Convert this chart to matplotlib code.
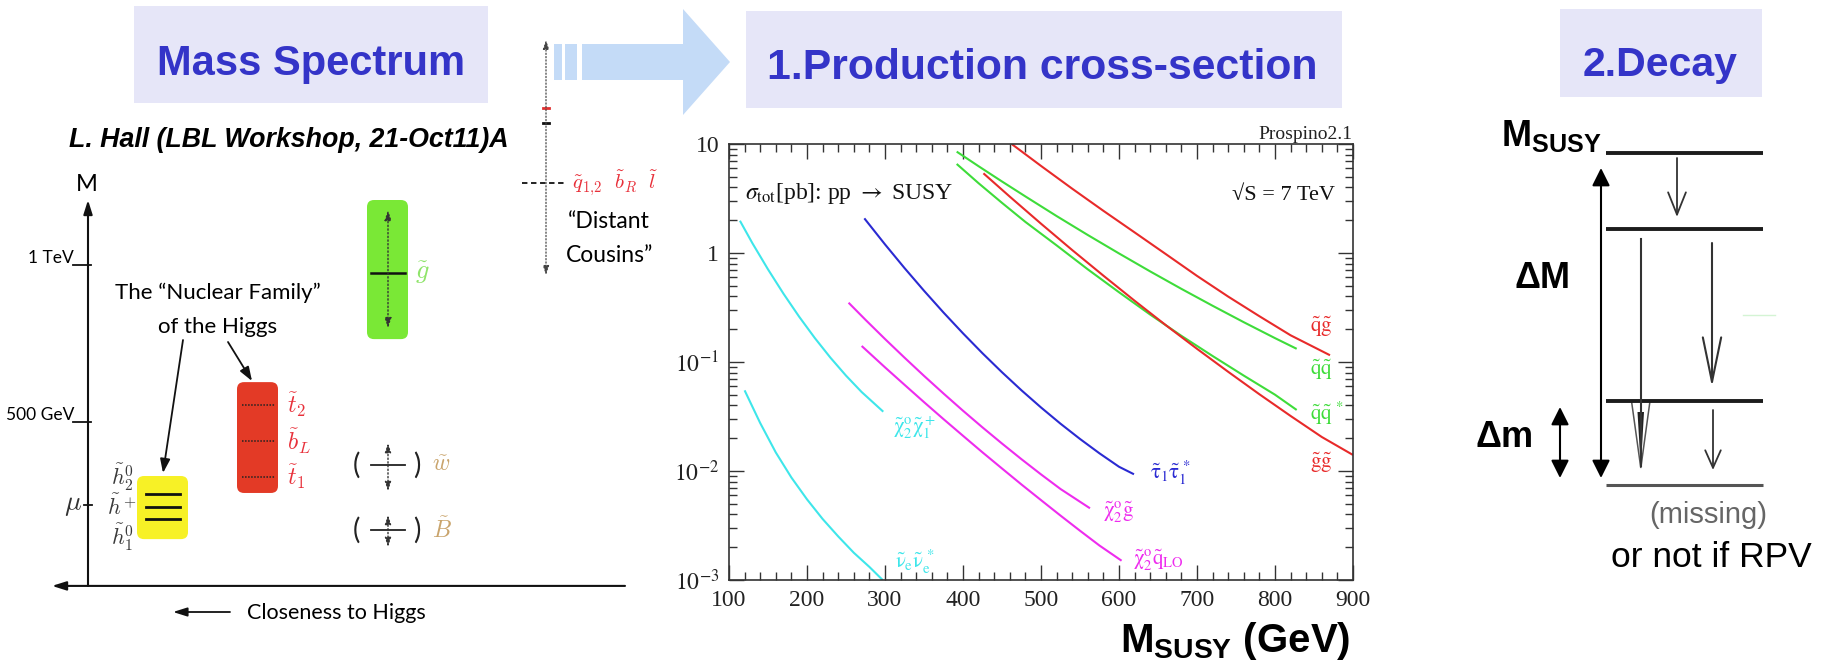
import numpy as np
import matplotlib.pyplot as plt
from matplotlib.patches import FancyBboxPatch, Rectangle, Polygon
from matplotlib.ticker import FixedLocator, FixedFormatter, MultipleLocator, LogLocator, NullFormatter

plt.rcParams['mathtext.fontset'] = 'stix'
plt.rcParams['mathtext.rm'] = 'Liberation Sans'
plt.rcParams['mathtext.bf'] = 'Liberation Sans:bold'
plt.rcParams['font.family'] = ['Liberation Sans', 'DejaVu Sans']

W, H = 1829, 664

# ---- Prospino 2.1 cross sections, sqrt(s)=7 TeV: mass [GeV], log10(sigma/pb)
snu_m = [120, 140, 160, 180, 200, 220, 240, 260, 280, 297]
snu_lg = [-1.26, -1.56, -1.83, -2.06, -2.26, -2.44, -2.60, -2.75, -2.88, -3.0]
n2c1_m = [114, 130, 150, 170, 190, 210, 230, 250, 270, 297.8]
n2c1_lg = [0.296, 0.09, -0.15, -0.375, -0.585, -0.78, -0.96, -1.125, -1.275, -1.456]
stau_m = [273.5, 300, 325, 350, 375, 400, 425, 450, 475, 500, 525, 550, 575, 600, 619.2]
stau_lg = [0.318, 0.079, -0.138, -0.346, -0.546, -0.737, -0.92, -1.094, -1.26, -1.417,
           -1.566, -1.706, -1.838, -1.961, -2.03]
n2g_m = [253.3, 275, 300, 325, 350, 375, 400, 425, 450, 475, 500, 525, 562.8]
n2g_lg = [-0.456, -0.613, -0.789, -0.96, -1.127, -1.289, -1.447, -1.6, -1.748, -1.892,
          -2.031, -2.165, -2.342]
n2q_m = [270.1, 300, 325, 350, 375, 400, 425, 450, 475, 500, 525, 550, 575, 603.3]
n2q_lg = [-0.853, -1.049, -1.209, -1.368, -1.524, -1.677, -1.829, -1.977, -2.124, -2.267,
          -2.409, -2.548, -2.684, -2.823]
sqsq_m = [391.9, 420, 450, 480, 520, 560, 600, 640, 680, 720, 760, 800, 827.8]
sqsq_lg = [0.93, 0.796, 0.656, 0.519, 0.339, 0.165, -0.004, -0.169, -0.329, -0.484,
           -0.635, -0.781, -0.879]
sqsqbar_m = [391.9, 420, 450, 480, 520, 560, 600, 640, 680, 720, 760, 800, 827.8]
sqsqbar_lg = [0.817, 0.64, 0.46, 0.285, 0.07, -0.15, -0.36, -0.565, -0.76, -0.945,
              -1.125, -1.30, -1.44]
glgl_m = [426.2, 460, 500, 540, 580, 620, 660, 700, 740, 780, 820, 860, 900]
glgl_lg = [0.731, 0.517, 0.269, 0.027, -0.208, -0.438, -0.662, -0.879, -1.09, -1.296,
           -1.495, -1.688, -1.853]
sqgl_m = [462.4, 500, 540, 580, 620, 660, 700, 740, 780, 820, 870.5]
sqgl_lg = [1.0, 0.799, 0.59, 0.387, 0.189, -0.01, -0.21, -0.40, -0.58, -0.755, -0.938]

curve_colors = ['#3ee6ea', '#3ee6ea', '#2a2ad2', '#ee2cee', '#ee2cee',
                '#3edc3a', '#3edc3a', '#e82a2a', '#e82a2a']
curve_labels = [r'$\mathrm{\tilde{\nu}_e\tilde{\nu}_e^{\,*}}$',
                r'$\mathrm{\tilde{\chi}_2^o\tilde{\chi}_1^+}$',
                r'$\mathrm{\tilde{\tau}_1\tilde{\tau}_1^{\,*}}$',
                r'$\mathrm{\tilde{\chi}_2^o\tilde{g}}$',
                r'$\mathrm{\tilde{\chi}_2^o\tilde{q}_{LO}}$',
                r'$\mathrm{\tilde{q}\tilde{q}}$',
                r'$\mathrm{\tilde{q}\tilde{q}^{\,*}}$',
                r'$\mathrm{\tilde{g}\tilde{g}}$',
                r'$\mathrm{\tilde{q}\tilde{g}}$']
label_m = [312.8, 310.3, 639.7, 579.5, 617.9, 845.0, 845.0, 845.0, 845.0]
label_lg = [-2.835, -1.606, -2.018, -2.376, -2.817, -1.073, -1.468, -1.927, -0.679]

ytick_vals = [1e-3, 1e-2, 1e-1, 1, 10]
ytick_text = [r'$10^{-3}$', r'$10^{-2}$', r'$10^{-1}$', '1', '10']

# ---- mass spectrum sketch (L. Hall), masses in GeV
scale_ticks = [1000, 500]
scale_labels = ['1 TeV', '500 GeV']
mu_mass = 236
higgsino_levels = [271, 229, 191]
higgsino_label_mass = [325, 229, 134]
higgsino_labels = [r'$\tilde{h}_2^0$', r'$\tilde{h}^+$', r'$\tilde{h}_1^0$']
higgsino_band = (127, 328)
stop_levels = [554, 439, 325]
stop_labels = [r'$\tilde{t}_2$', r'$\tilde{b}_L$', r'$\tilde{t}_1$']
stop_band = (274, 627)
gluino_mass, gluino_band, gluino_range = 975, (764, 1207), (799, 1175)
wino_mass, wino_range = 363, (280, 433)
bino_mass, bino_range = 156, (102, 204)
cousin_mass, cousin_range = 1261, (968, 1717)
axis_top, axis_bottom = 1207, -22

blue_txt = '#3434c8'
box_bg = '#e6e6f8'

fig = plt.figure(figsize=(W / 100, H / 100), dpi=100)

# ---------------- cross-section plot ----------------
ax = fig.add_axes([729 / W, (H - 580) / H, 624 / W, 436 / H])
curves = [(snu_m, snu_lg), (n2c1_m, n2c1_lg), (stau_m, stau_lg), (n2g_m, n2g_lg),
          (n2q_m, n2q_lg), (sqsq_m, sqsq_lg), (sqsqbar_m, sqsqbar_lg),
          (glgl_m, glgl_lg), (sqgl_m, sqgl_lg)]
for (m, lg), c in zip(curves, curve_colors):
    ax.plot(m, 10 ** np.array(lg), color=c, lw=1.5, solid_capstyle='butt', solid_joinstyle='round')
for txt, m, lg, c in zip(curve_labels, label_m, label_lg, curve_colors):
    ax.text(m, 10 ** lg, txt, color=c, fontsize=15, va='center', ha='left')

ax.set_yscale('log')
ax.set_xlim(100, 900)
ax.set_ylim(1e-3, 10)
ax.xaxis.set_major_locator(MultipleLocator(100))
ax.xaxis.set_minor_locator(MultipleLocator(20))
ax.yaxis.set_major_locator(FixedLocator(ytick_vals))
ax.yaxis.set_major_formatter(FixedFormatter(ytick_text))
ax.yaxis.set_minor_locator(LogLocator(base=10, subs=np.arange(2, 10)))
ax.yaxis.set_minor_formatter(NullFormatter())
ax.tick_params(which='both', direction='in', top=True, right=True,
               color='#333333', width=1, labelcolor='#222222',
               labelfontfamily='Liberation Serif', labelsize=17)
ax.tick_params(which='major', length=11, pad=7)
ax.tick_params(which='minor', length=5.5)
for sp in ax.spines.values():
    sp.set_color('#333333')
    sp.set_linewidth(1.2)

# ---------------- overlay in pixel units ----------------
ov = fig.add_axes([0, 0, 1, 1])
ov.set_xlim(0, W)
ov.set_ylim(H, 0)
ov.axis('off')

# headline boxes
for x0, y0, x1, y1 in [(134, 6, 488, 103), (746, 11, 1342, 108), (1560, 9, 1762, 97)]:
    ov.add_patch(Rectangle((x0, y0), x1 - x0, y1 - y0, color=box_bg, lw=0))
ov.text(311, 75, 'Mass Spectrum', fontsize=30, fontweight='bold', color=blue_txt,
        ha='center', va='baseline')
ov.text(1042, 79, '1.Production cross-section', fontsize=30.8, fontweight='bold',
        color=blue_txt, ha='center', va='baseline')
ov.text(1660, 76, '2.Decay', fontsize=29.5, fontweight='bold', color=blue_txt,
        ha='center', va='baseline')

# big light-blue arrow
arrow_blue = '#c4dbf7'
ov.add_patch(Polygon([(582, 44), (683, 44), (683, 9), (730, 62), (683, 115), (683, 80), (582, 80)],
                     closed=True, color=arrow_blue, lw=0))
ov.add_patch(Rectangle((554, 44), 8, 36, color=arrow_blue, lw=0))
ov.add_patch(Rectangle((565, 44), 12, 36, color=arrow_blue, lw=0))

ov.text(289, 147, 'L. Hall (LBL Workshop, 21-Oct11)A', fontsize=19.3, fontweight='bold',
        fontstyle='italic', ha='center', va='baseline')

# plot annotations
ov.text(745, 194, r'$\sigma_{\rm tot}$[pb]: pp $\rightarrow$ SUSY', fontsize=17,
        family=['Liberation Serif', 'DejaVu Serif'], va='center', color='#111111')
ov.text(1335, 195, '\u221aS = 7 TeV', fontsize=16, family=['Liberation Serif', 'DejaVu Serif'],
        va='center', ha='right', color='#111111')
ov.text(1352, 139, 'Prospino2.1', fontsize=14, family=['Liberation Serif', 'DejaVu Serif'],
        va='baseline', ha='right', color='#222222')
ov.text(1350, 652, r'$\mathbf{M}_{\mathbf{SUSY}}$ (GeV)', fontsize=29, fontweight='bold',
        ha='right', va='baseline', math_fontfamily='custom')

# ---------------- mass spectrum (x in pixels, y in GeV) ----------------
ms = fig.add_axes([0, 0, 1, 1])
ms.set_xlim(0, W)
ms.set_ylim((579 - H) / 0.314, 579 / 0.314)
ms.axis('off')
asp = 1 / 0.314

lato = 'Lato'
ms.annotate('', xy=(88, axis_top), xytext=(88, axis_bottom),
            arrowprops=dict(arrowstyle='-|>,head_length=0.7,head_width=0.22', color='#111111',
                            lw=1.5, mutation_scale=12, shrinkA=0, shrinkB=0))
ms.annotate('', xy=(52, axis_bottom), xytext=(625, axis_bottom),
            arrowprops=dict(arrowstyle='-|>,head_length=0.7,head_width=0.22', color='#111111',
                            lw=1.5, mutation_scale=12, shrinkA=0, shrinkB=0))
ms.text(87, axis_top + 28, 'M', family=lato, fontsize=17, ha='center', va='baseline')
for g, lab in zip(scale_ticks, scale_labels):
    ms.plot([73, 91], [g, g], color='#111111', lw=1.3)
    ms.text(74, g + 5, lab, family=lato, fontsize=12.5, ha='right', va='baseline')
ms.plot([84, 92], [mu_mass, mu_mass], color='#111111', lw=1.3)
ms.text(73, mu_mass, r'$\mu$', fontsize=20, ha='center', va='center', math_fontfamily='cm',
        color='#333333')

# higgsinos
ms.add_patch(FancyBboxPatch((137, higgsino_band[0]), 51, higgsino_band[1] - higgsino_band[0],
                            boxstyle='round,pad=0,rounding_size=7', mutation_aspect=asp,
                            color='#f7f126', lw=0))
for g in higgsino_levels:
    ms.plot([146, 180], [g, g], color='#111111', lw=2)
for g, lab in zip(higgsino_label_mass, higgsino_labels):
    ms.text(122, g, lab, fontsize=16, ha='center', va='center', math_fontfamily='cm',
            color='#3a3a3a')

# stops / sbottom
ms.add_patch(FancyBboxPatch((237, stop_band[0]), 41, stop_band[1] - stop_band[0],
                            boxstyle='round,pad=0,rounding_size=7', mutation_aspect=asp,
                            color='#e33a26', lw=0))
for g, lab in zip(stop_levels, stop_labels):
    ms.plot([242, 275], [g, g], color='#222222', lw=1.1, ls=(0, (1, 1)))
    ms.text(287, g, lab, fontsize=17, ha='left', va='center', math_fontfamily='cm',
            color='#e8303a')

# gluino
ms.add_patch(FancyBboxPatch((367, gluino_band[0]), 41, gluino_band[1] - gluino_band[0],
                            boxstyle='round,pad=0,rounding_size=7', mutation_aspect=asp,
                            color='#7ae836', lw=0))
ms.plot([371, 405], [gluino_mass, gluino_mass], color='#111111', lw=1.8)
ms.annotate('', xy=(388, gluino_range[1]), xytext=(388, gluino_range[0]),
            arrowprops=dict(arrowstyle='<|-|>,head_length=0.6,head_width=0.2', color='#333333',
                            lw=1, ls=':', mutation_scale=10, shrinkA=0, shrinkB=0))
ms.text(415, gluino_mass, r'$\tilde{g}$', fontsize=19, ha='left', va='center',
        math_fontfamily='cm', color='#8fe46a')

# wino / bino
for g, rng, lab in [(wino_mass, wino_range, r'$\tilde{w}$'), (bino_mass, bino_range, r'$\tilde{B}$')]:
    ms.plot([371, 405], [g, g], color='#222222', lw=1.3)
    ms.annotate('', xy=(388, rng[1]), xytext=(388, rng[0]),
                arrowprops=dict(arrowstyle='<|-|>,head_length=0.6,head_width=0.2', color='#333333',
                                lw=1, ls=':', mutation_scale=9, shrinkA=0, shrinkB=0))
    ms.text(356, g, '(', family=lato, fontsize=20, ha='center', va='center', color='#222222')
    ms.text(417, g, ')', family=lato, fontsize=20, ha='center', va='center', color='#222222')
    ms.text(432, g, lab, fontsize=17, ha='left', va='center', math_fontfamily='cm', color='#c9a46c')

# distant cousins
ms.annotate('', xy=(546, cousin_range[1]), xytext=(546, cousin_range[0]),
            arrowprops=dict(arrowstyle='<|-|>,head_length=0.6,head_width=0.2', color='#444444',
                            lw=0.9, ls=':', mutation_scale=9, shrinkA=0, shrinkB=0))
ms.plot([522, 565], [cousin_mass, cousin_mass], color='#111111', lw=1.3, ls=(0, (3, 2)))
ms.plot([543, 549], [(579 - 108) / 0.314] * 2, color='#e03030', lw=2)
ms.plot([543, 549], [(579 - 123) / 0.314] * 2, color='#111111', lw=2)
ms.text(572, cousin_mass, r'$\tilde{q}_{1{,}2}\ \ \tilde{b}_R\ \ \tilde{l}$', fontsize=15,
        ha='left', va='center', math_fontfamily='cm', color='#e8303a')

# text of the sketch
ov.text(218, 293, 'The \u201cNuclear Family\u201d', family=lato, fontsize=16,
        ha='center', va='center')
ov.text(218, 327, 'of the Higgs', family=lato, fontsize=16, ha='center', va='center')
for (x0, y0), (x1, y1) in [((183, 340), (163, 473)), ((228, 342), (252, 381))]:
    ov.annotate('', xy=(x1, y1), xytext=(x0, y0),
                arrowprops=dict(arrowstyle='-|>,head_length=0.7,head_width=0.25', color='#111111',
                                lw=1.3, mutation_scale=12, shrinkA=0, shrinkB=0))
ov.text(609, 222, '\u201cDistant', family=lato, fontsize=16.5, ha='center', va='center')
ov.text(610, 255, 'Cousins\u201d', family=lato, fontsize=16.5, ha='center', va='center')
ov.annotate('', xy=(173, 612), xytext=(230, 612),
            arrowprops=dict(arrowstyle='-|>,head_length=0.7,head_width=0.22', color='#111111',
                            lw=1.3, mutation_scale=12, shrinkA=0, shrinkB=0))
ov.text(247, 613, 'Closeness to Higgs', family=lato, fontsize=15.5, ha='left', va='center')

# ---------------- decay cascade ----------------
for y, c, lw in [(153, '#1c1c1c', 2.8), (229, '#1c1c1c', 2.8), (401, '#1c1c1c', 2.8), (485, '#555555', 2.2)]:
    ov.plot([1606, 1763], [y, y], color=c, lw=lw, solid_capstyle='butt')

def open_arrow(x, y0, y1, ms_, hl, hw, lw=1.3):
    ov.annotate('', xy=(x, y1), xytext=(x, y0),
                arrowprops=dict(arrowstyle=f'->,head_length={hl},head_width={hw}', color='#333333',
                                lw=lw, mutation_scale=ms_, shrinkA=0, shrinkB=0))

open_arrow(1677, 158, 217, 16, 1.0, 0.4)
open_arrow(1712, 243, 387, 20, 1.6, 0.33, lw=1.5)
open_arrow(1713, 410, 470, 14, 0.9, 0.4)
ov.plot([1641, 1641], [239, 466], color='#333333', lw=1.5)
ov.add_patch(Polygon([(1631.5, 401), (1650, 401), (1640.8, 468)], closed=True, fill=False,
                     ec='#555555', lw=1.1))
ov.add_patch(Polygon([(1637.5, 412), (1644, 412), (1640.8, 468)], closed=True, color='#222222', lw=0))

for x, y0, y1 in [(1601, 168, 478), (1560, 407, 478)]:
    ov.annotate('', xy=(x, y1), xytext=(x, y0),
                arrowprops=dict(arrowstyle='<|-|>,head_length=0.9,head_width=0.45', color='#000000',
                                lw=1.5, mutation_scale=12, shrinkA=0, shrinkB=0))

ov.plot([1743, 1775], [315, 315], color='#d4f4d4', lw=1)
ov.text(1602, 146, r'$\mathbf{M}_{\mathbf{SUSY}}$', fontsize=26, fontweight='bold',
        ha='right', va='baseline', math_fontfamily='custom')
ov.text(1570, 288, '\u0394M', fontsize=26, fontweight='bold', ha='right', va='baseline')
ov.text(1534, 447, '\u0394m', fontsize=26, fontweight='bold', ha='right', va='baseline')
ov.text(1708, 515, '(missing)', fontsize=21, color='#666666', ha='center', va='center')
ov.text(1611, 567, 'or not if RPV', fontsize=25.5, ha='left', va='baseline')

fig.savefig('out.png', dpi=100)
